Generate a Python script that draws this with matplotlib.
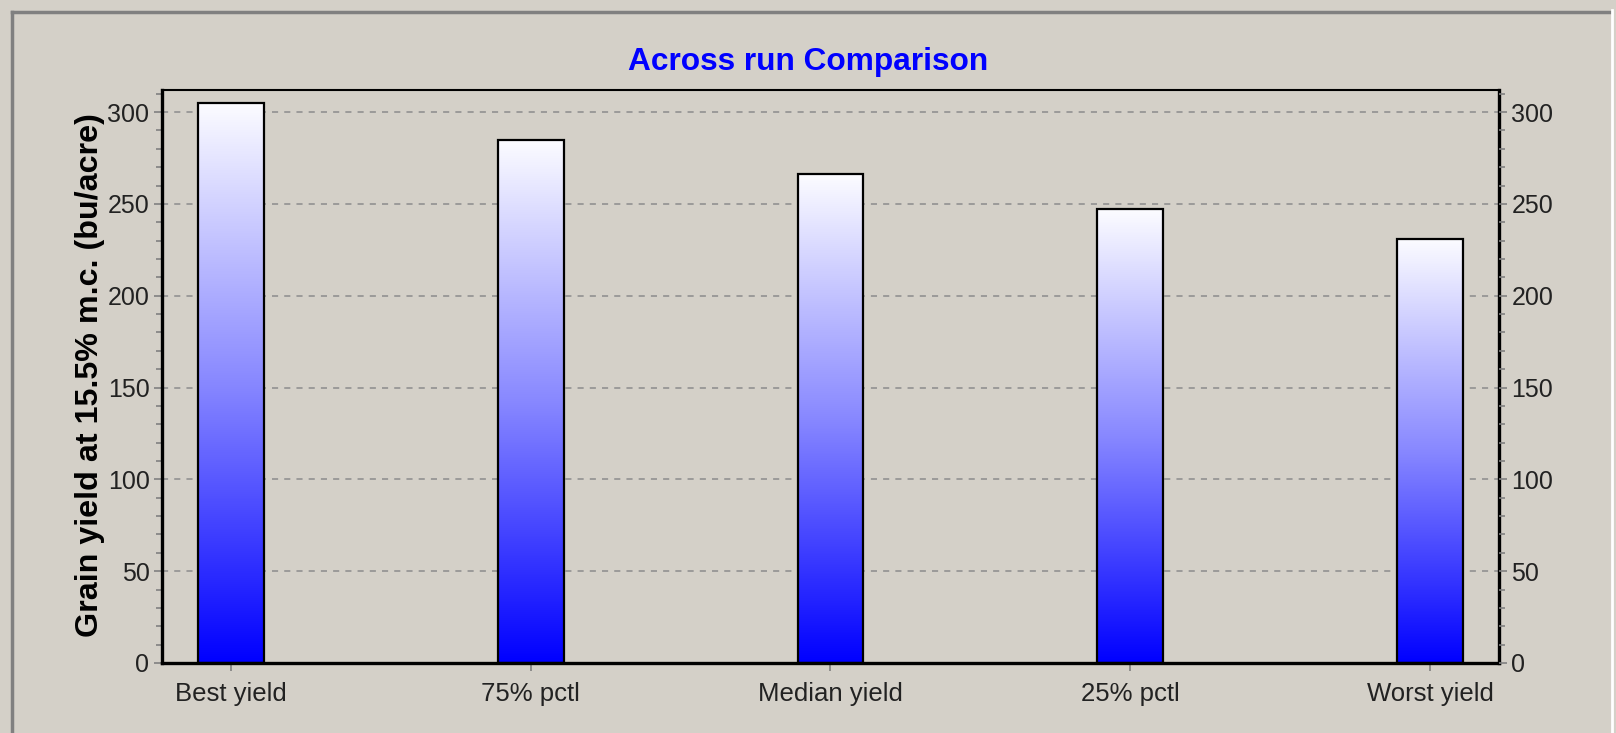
import matplotlib
matplotlib.use("Agg")
import matplotlib.pyplot as plt
import numpy as np
from matplotlib.colors import LinearSegmentedColormap
from matplotlib.lines import Line2D

categories = ["Best yield", "75% pctl", "Median yield", "25% pctl", "Worst yield"]
yields = [305, 285, 266, 247, 231]
yticks = [0, 50, 100, 150, 200, 250, 300]

bg = "#D4D0C8"
plt.rcParams["font.family"] = ["Liberation Sans", "DejaVu Sans"]

W, H = 1616, 733
fig = plt.figure(figsize=(W / 100, H / 100), dpi=100, facecolor=bg)

# sunken frame round the chart
fig.add_artist(Line2D([12 / W, 12 / W], [0, 1 - 12 / H], color="#808080", lw=2.5))
fig.add_artist(Line2D([12 / W, 1610 / W], [1 - 12 / H, 1 - 12 / H], color="#808080", lw=2.5))
fig.add_artist(Line2D([1612 / W, 1612 / W], [0, 1 - 10 / H], color="white", lw=2))

left, right, top, bottom = 162, 1499, 90, 663
ax = fig.add_axes([left / W, 1 - bottom / H, (right - left) / W, (bottom - top) / H])
ax.set_facecolor(bg)

cmap = LinearSegmentedColormap.from_list("wb", ["#0000FF", "#8888FF", "#FCFCFF"])
grad = np.linspace(0, 1, 256).reshape(-1, 1)
width = 0.22
x = np.arange(len(categories))
for xi, v in zip(x, yields):
    ax.imshow(grad, extent=[xi - width / 2, xi + width / 2, 0, v], origin="lower",
              aspect="auto", cmap=cmap, zorder=2)
ax.bar(x, yields, width=width, fill=False, edgecolor="black", linewidth=1.6, zorder=3)

ax.set_xlim(-0.23, len(categories) - 1 + 0.23)
ax.set_ylim(0, 312)
ax.set_yticks(yticks)
ax.set_yticks(np.arange(0, 311, 10), minor=True)
ax.set_xticks(x)
ax.set_xticklabels(categories, fontsize=18.5, color="#222222")
ax.tick_params(axis="x", length=6, width=1.2, color="#808080", pad=8)
ax.tick_params(axis="y", which="major", length=6, width=1.2, color="#808080",
               labelsize=18, labelcolor="#222222", pad=3)
ax.tick_params(axis="y", which="minor", length=4, width=1.2, color="#808080")
ax.grid(axis="y", color="#8c8c8c", linestyle=(0, (4, 4)), linewidth=1.1, zorder=1)
ax.set_axisbelow(True)

for s in ["left", "bottom", "right"]:
    ax.spines[s].set_linewidth(2.4)
ax.spines["top"].set_linewidth(1.5)

ax2 = ax.twinx()
ax2.set_ylim(ax.get_ylim())
ax2.set_yticks(yticks)
ax2.set_yticks(np.arange(0, 311, 10), minor=True)
ax2.tick_params(axis="y", which="major", length=6, width=1.2, color="#808080",
                labelsize=18, labelcolor="#222222", pad=3)
ax2.tick_params(axis="y", which="minor", length=4, width=1.2, color="#808080")
for s in ax2.spines.values():
    s.set_visible(False)

fig.text(0.5, 1 - 62 / H, "Across run Comparison", ha="center", va="center",
         color="#0000FF", fontsize=22.8, fontweight="bold")
fig.text(90 / W, 1 - 375 / H, "Grain yield at 15.5% m.c. (bu/acre)", rotation=90,
         ha="center", va="center", fontsize=23.2, fontweight="bold")

fig.savefig("out.png", dpi=100, facecolor=bg)
